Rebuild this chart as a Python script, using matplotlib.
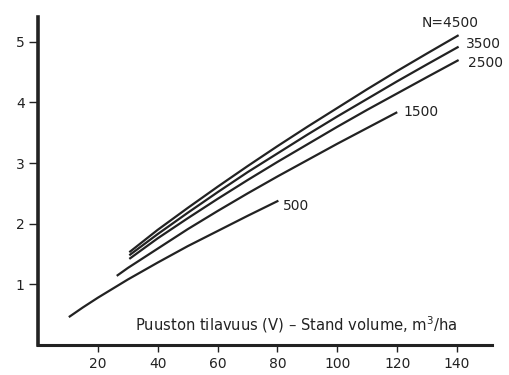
import matplotlib.pyplot as plt

plt.rcParams["font.family"] = ["DejaVu Sans"]
plt.rcParams["mathtext.fontset"] = "dejavusans"

# stand volume V (m3/ha) and curve values for each stem number N
v_4500 = [30.5, 40, 50, 60, 70, 80, 90, 100, 110, 120, 130, 140.5]
y_4500 = [1.53, 1.90, 2.26, 2.61, 2.95, 3.28, 3.60, 3.91, 4.22, 4.52, 4.81, 5.11]

v_3500 = [30.5, 40, 50, 60, 70, 80, 90, 100, 110, 120, 130, 140.5]
y_3500 = [1.48, 1.83, 2.18, 2.52, 2.85, 3.16, 3.47, 3.77, 4.06, 4.35, 4.63, 4.92]

v_2500 = [30.5, 40, 50, 60, 70, 80, 90, 100, 110, 120, 130, 140.5]
y_2500 = [1.42, 1.76, 2.09, 2.41, 2.72, 3.02, 3.31, 3.60, 3.88, 4.15, 4.42, 4.70]

v_1500 = [26.3, 30, 40, 50, 60, 70, 80, 90, 100, 110, 120]
y_1500 = [1.14, 1.27, 1.59, 1.91, 2.21, 2.50, 2.78, 3.05, 3.32, 3.58, 3.84]

v_500 = [10.3, 15, 20, 30, 40, 50, 60, 70, 80.3]
y_500 = [0.46, 0.62, 0.78, 1.08, 1.36, 1.63, 1.88, 2.13, 2.38]

curves = [
    (v_4500, y_4500, "N=4500", (-6, 9), "center"),
    (v_3500, y_3500, "3500", (5, 2), "left"),
    (v_2500, y_2500, "2500", (6.5, -2), "left"),
    (v_1500, y_1500, "1500", (4.5, 0), "left"),
    (v_500, y_500, "500", (3.5, -3.5), "left"),
]

x_ticks = [20, 40, 60, 80, 100, 120, 140]
y_ticks = [1, 2, 3, 4, 5]

fig = plt.figure(figsize=(5.1, 3.75), dpi=100)
ax = fig.add_axes([0.0745, 0.08, 0.8905, 0.8747])

line_color = "#222222"
for v, y, name, offset, ha in curves:
    ax.plot(v, y, color=line_color, linewidth=1.6, solid_capstyle="butt")
    ax.annotate(
        name,
        xy=(v[-1], y[-1]),
        xytext=offset,
        textcoords="offset points",
        ha=ha,
        va="center",
        fontsize=10,
        color=line_color,
    )

ax.text(
    32.5,
    0.33,
    "Puuston tilavuus (V) \u2013 Stand volume, m$^3$/ha",
    fontsize=10.6,
    color=line_color,
    va="center",
    ha="left",
)

ax.set_xlim(0, 151.7)
ax.set_ylim(0, 5.41)
ax.set_xticks(x_ticks)
ax.set_yticks(y_ticks)

ax.spines["top"].set_visible(False)
ax.spines["right"].set_visible(False)
ax.spines["left"].set_linewidth(2.6)
ax.spines["bottom"].set_linewidth(2.2)
ax.spines["left"].set_color(line_color)
ax.spines["bottom"].set_color(line_color)

ax.tick_params(axis="x", direction="out", length=5, width=1, pad=3.5,
               labelsize=10, colors=line_color)
ax.tick_params(axis="y", direction="out", length=6.5, width=1, pad=3,
               labelsize=10, colors=line_color)

fig.savefig("out.png", dpi=100)
